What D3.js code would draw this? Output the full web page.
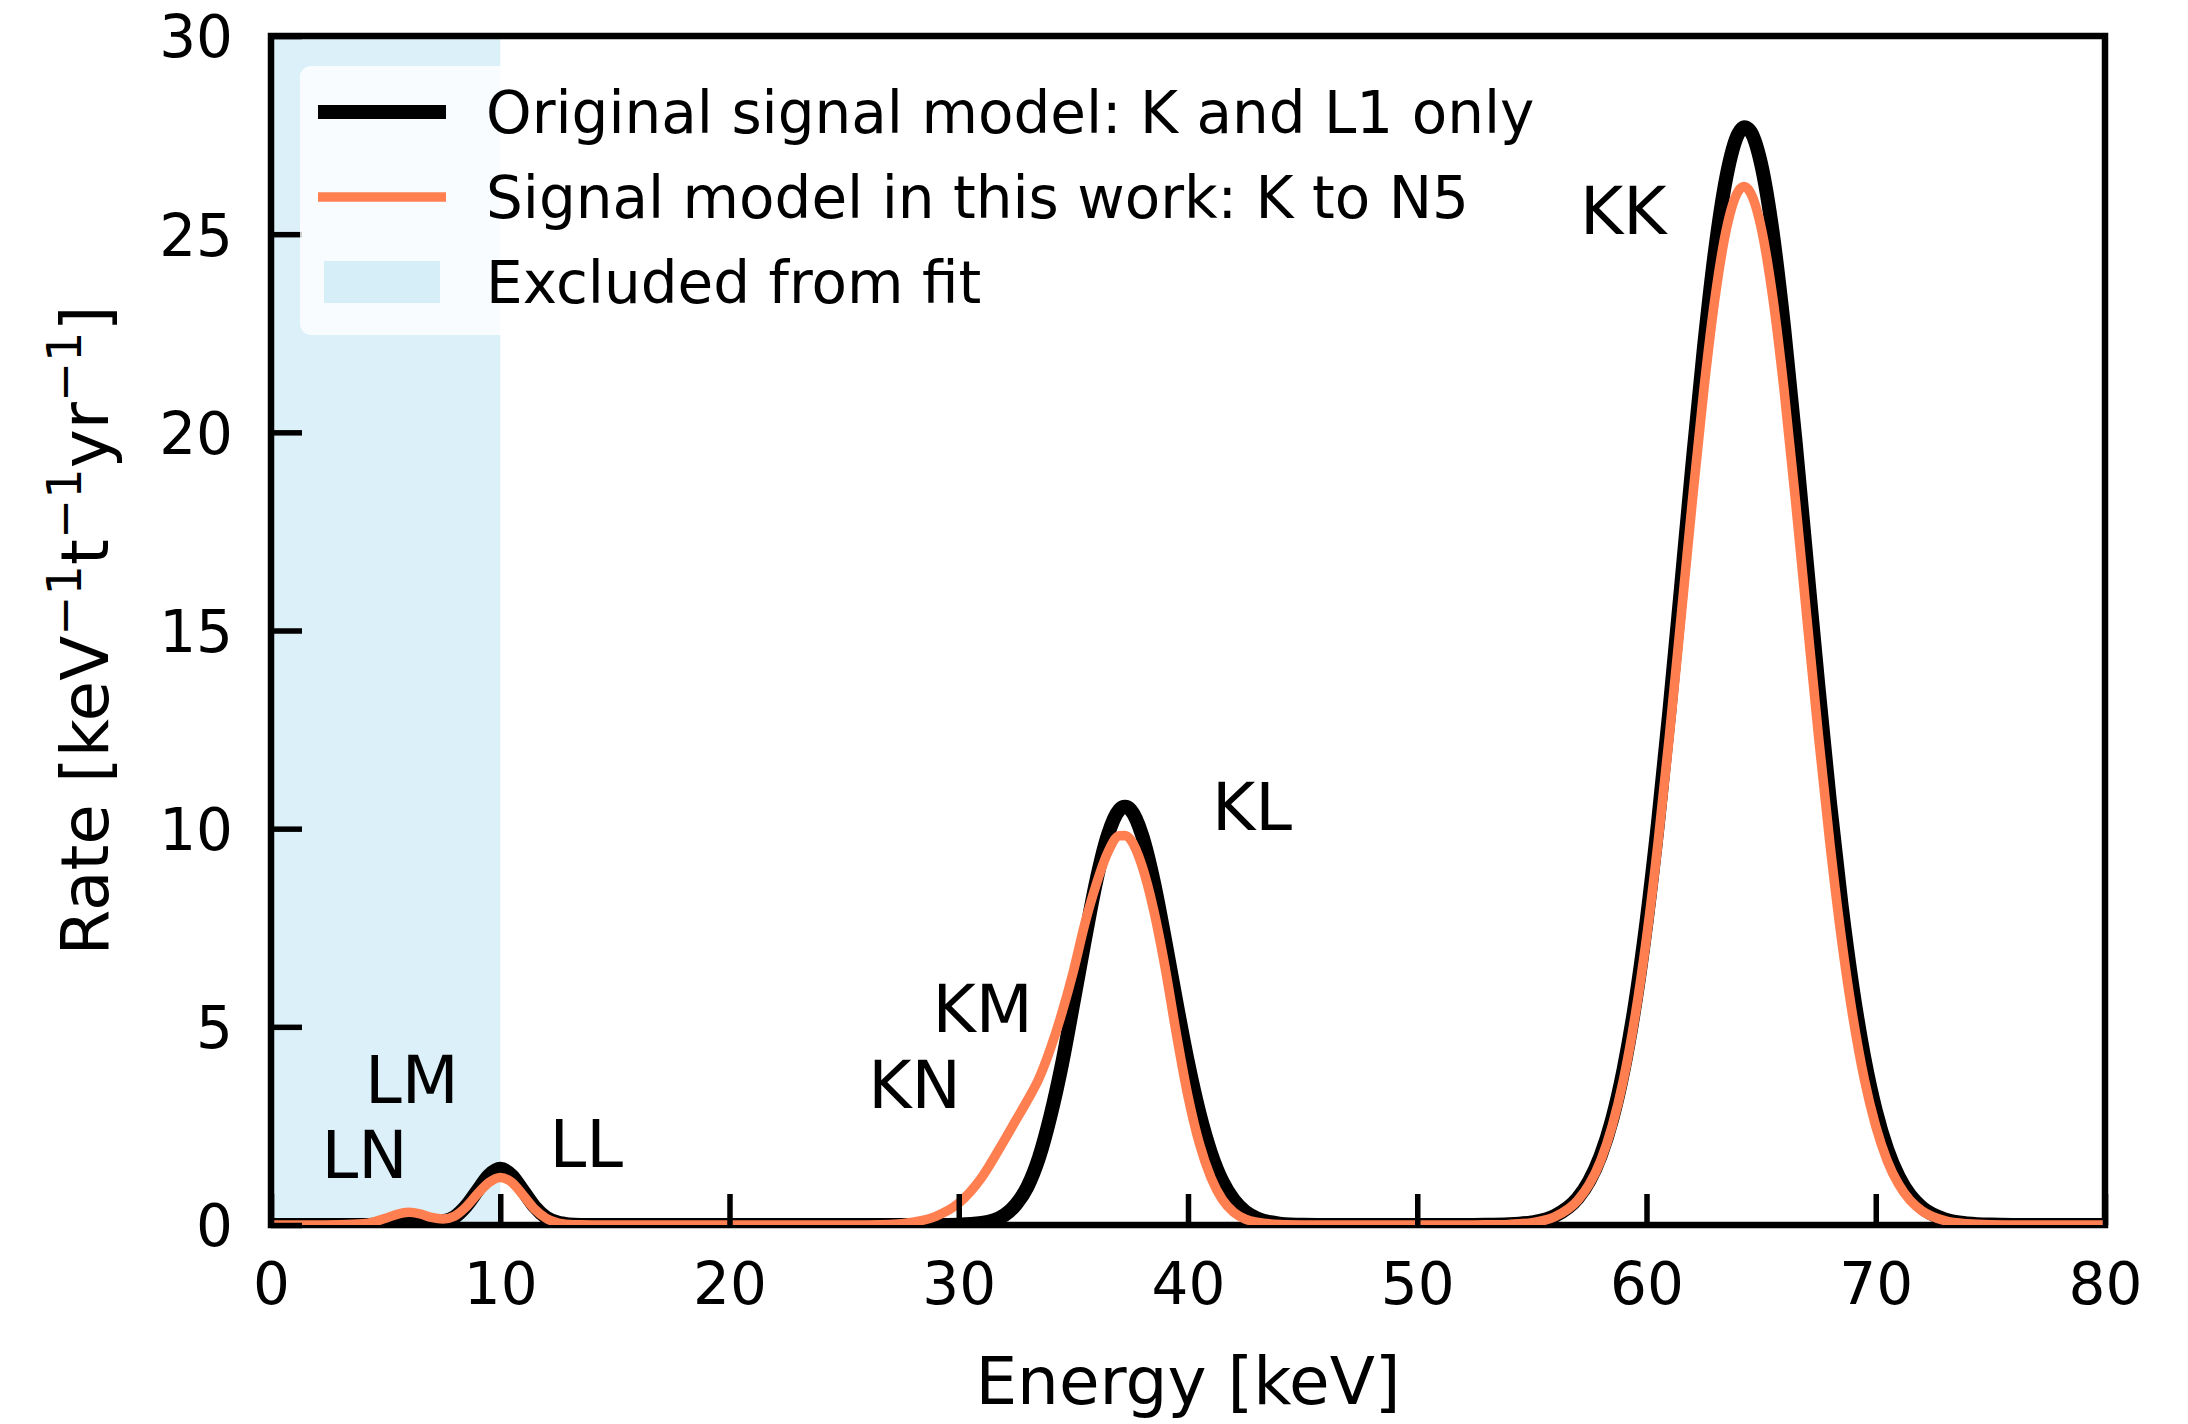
<!DOCTYPE html>
<html>
<head>
<meta charset="utf-8">
<script src="https://cdn.jsdelivr.net/npm/d3@7"></script>
<style>
  html, body { margin: 0; padding: 0; background: #fff; }
  svg { display: block; font-family: "DejaVu Sans", sans-serif; }
</style>
</head>
<body>
<div id="chart"></div>
<script>
  // energy grid [keV] shared by both models, rates
  const energyKeV = [
    0, 2, 3, 4, 4.5, 5, 5.5, 6, 6.5, 7, 7.5, 8, 8.5, 9, 9.5, 10, 10.5, 11, 11.5, 12, 12.5, 13, 13.5, 14,
    16, 20, 24, 26, 27, 28, 29, 30, 31, 32, 32.5, 33, 33.5, 34, 34.5, 35, 35.5, 36, 36.5, 37, 37.25,
    37.5, 38, 38.5, 39, 39.5, 40, 40.5, 41, 41.5, 42, 42.5, 43, 44, 45, 46, 48, 50,
    52, 53, 54, 55, 56, 57, 57.5, 58, 58.5, 59, 59.5, 60, 60.5, 61, 61.5, 62, 62.5, 63, 63.5, 64, 64.25,
    64.5, 65, 65.5, 66, 66.5, 67, 67.5, 68, 68.5, 69, 69.5, 70, 70.5, 71, 71.5, 72, 73, 74, 75, 76, 77, 80
  ];
  // original signal model: K and L1 only
  const rateOriginal = [
    0, 0, 0, 0, 0.005, 0.02, 0.04, 0.05, 0.05, 0.06, 0.09, 0.2, 0.47, 0.86, 1.25, 1.42, 1.25, 0.86, 0.46, 0.19, 0.062, 0.016, 0.003, 0,
    0, 0, 0, 0, 0, 0, 0.001, 0.008, 0.05, 0.25, 0.52, 0.97, 1.7, 2.75, 4.05, 5.6, 7.19, 8.68, 9.83, 10.47, 10.55,
    10.47, 9.83, 8.68, 7.19, 5.6, 4.1, 2.82, 1.82, 1.1, 0.63, 0.337, 0.17, 0.035, 0.006, 0.001, 0, 0,
    0.0007, 0.0038, 0.017, 0.067, 0.229, 0.678, 1.108, 1.748, 2.663, 3.92, 5.57, 7.65, 10.14, 12.98, 16.05, 19.17, 22.11, 24.63, 26.49, 27.53, 27.7,
    27.62, 26.77, 25.06, 22.65, 19.78, 16.67, 13.58, 10.68, 8.11, 5.95, 4.22, 2.89, 1.91, 1.22, 0.75, 0.447, 0.143, 0.04, 0.0096, 0.002, 0.0004, 0
  ];
  // signal model in this work: K to N5
  const rateThisWork = [
    0, 0, 0.005, 0.03, 0.08, 0.17, 0.27, 0.32, 0.28, 0.19, 0.15, 0.22, 0.45, 0.78, 1.07, 1.2, 1.08, 0.75, 0.4, 0.17, 0.055, 0.015, 0.004, 0.001,
    0, 0, 0, 0.003, 0.01, 0.07, 0.22, 0.55, 1.2, 2.15, 2.65, 3.15, 3.7, 4.45, 5.35, 6.4, 7.6, 8.6, 9.4, 9.82, 9.83,
    9.72, 9.05, 7.95, 6.5, 4.8, 3.25, 2.05, 1.2, 0.64, 0.32, 0.15, 0.07, 0.012, 0.002, 0, 0, 0,
    0.0006, 0.0032, 0.015, 0.059, 0.206, 0.621, 1.022, 1.624, 2.49, 3.68, 5.26, 7.24, 9.63, 12.35, 15.29, 18.27, 21.07, 23.44, 25.17, 26.08, 26.2,
    26.08, 25.17, 23.44, 21.07, 18.27, 15.29, 12.35, 9.63, 7.24, 5.26, 3.68, 2.49, 1.624, 1.022, 0.621, 0.364, 0.112, 0.03, 0.007, 0.0015, 0.0003, 0
  ];

  const excludedRange = [0, 10];
  const xTicks = [0, 10, 20, 30, 40, 50, 60, 70, 80];
  const yTicks = [0, 5, 10, 15, 20, 25, 30];

  const peakLabels = ['KK', 'KL', 'KM', 'KN', 'LL', 'LM', 'LN'];
  const peakLabelE = [57.1, 41.05, 28.85, 26.05, 12.15, 4.1, 2.2];
  const peakLabelR = [25.0, 9.97, 4.87, 2.95, 1.46, 3.08, 1.19];

  const legendLabels = [
    'Original signal model: K and L1 only',
    'Signal model in this work: K to N5',
    'Excluded from fit'
  ];

  const W = 2188, H = 1424;
  const plot = { left: 271, right: 2105, top: 36, bottom: 1225 };
  const BLUE = 'rgb(135,206,235)';
  const CORAL = '#ff7f50';

  const svg = d3.select('#chart').append('svg')
    .attr('width', W).attr('height', H)
    .attr('viewBox', '0 0 ' + W + ' ' + H);

  const x = d3.scaleLinear().domain([0, 80]).range([plot.left, plot.right]);
  const y = d3.scaleLinear().domain([0, 30]).range([plot.bottom, plot.top]);

  svg.append('defs').append('clipPath').attr('id', 'plot-clip')
    .append('rect')
    .attr('x', plot.left).attr('y', plot.top)
    .attr('width', plot.right - plot.left).attr('height', plot.bottom - plot.top);

  // excluded region
  svg.append('rect')
    .attr('x', x(excludedRange[0])).attr('y', plot.top)
    .attr('width', x(excludedRange[1]) - x(excludedRange[0]))
    .attr('height', plot.bottom - plot.top)
    .attr('fill', BLUE).attr('fill-opacity', 0.3);

  // frame
  svg.append('rect')
    .attr('x', plot.left).attr('y', plot.top)
    .attr('width', plot.right - plot.left).attr('height', plot.bottom - plot.top)
    .attr('fill', 'none').attr('stroke', '#000').attr('stroke-width', 6.5);

  const pts = function (rates) {
    return energyKeV.map(function (e, i) { return { e: e, r: rates[i] }; });
  };
  const line = d3.line()
    .x(function (d) { return x(d.e); })
    .y(function (d) { return y(d.r); })
    .curve(d3.curveMonotoneX);

  const curves = svg.append('g').attr('clip-path', 'url(#plot-clip)');
  curves.append('path')
    .attr('d', line(pts(rateOriginal)))
    .attr('fill', 'none').attr('stroke', '#000')
    .attr('stroke-width', 14).attr('stroke-linejoin', 'round');
  curves.append('path')
    .attr('d', line(pts(rateThisWork)))
    .attr('fill', 'none').attr('stroke', CORAL)
    .attr('stroke-width', 9.5).attr('stroke-linejoin', 'round');

  // axes with inward ticks
  const xAxis = svg.append('g')
    .attr('transform', 'translate(0,' + plot.bottom + ')')
    .call(d3.axisBottom(x).tickValues(xTicks).tickSizeInner(-31).tickSizeOuter(0).tickPadding(38));
  const yAxis = svg.append('g')
    .attr('transform', 'translate(' + plot.left + ',0)')
    .call(d3.axisLeft(y).tickValues(yTicks).tickSizeInner(-31).tickSizeOuter(0).tickPadding(38));

  [xAxis, yAxis].forEach(function (ax) {
    ax.select('.domain').remove();
    ax.selectAll('.tick line').attr('stroke', '#000').attr('stroke-width', 5.5);
    ax.selectAll('.tick text')
      .attr('fill', '#000')
      .attr('font-size', 58)
      .attr('font-family', '"DejaVu Sans", sans-serif');
  });
  yAxis.selectAll('.tick text').attr('dy', '0.36em');

  // peak annotations
  svg.append('g').selectAll('text')
    .data(peakLabels)
    .join('text')
    .attr('x', function (d, i) { return x(peakLabelE[i]); })
    .attr('y', function (d, i) { return y(peakLabelR[i]); })
    .attr('font-size', 66)
    .attr('fill', '#000')
    .text(function (d) { return d; });

  // axis labels
  svg.append('text')
    .attr('x', (plot.left + plot.right) / 2)
    .attr('y', 1404)
    .attr('text-anchor', 'middle')
    .attr('font-size', 66)
    .text('Energy [keV]');

  const yLabel = svg.append('text')
    .attr('transform', 'translate(108,' + ((plot.top + plot.bottom) / 2) + ') rotate(-90)')
    .attr('text-anchor', 'middle')
    .attr('font-size', 66);
  const parts = [['Rate [keV', false], ['\u22121', true], ['t', false], ['\u22121', true], ['yr', false], ['\u22121', true], [']', false]];
  parts.forEach(function (p, i) {
    const prevSup = i > 0 && parts[i - 1][1];
    const ts = yLabel.append('tspan').text(p[0]);
    if (p[1]) ts.attr('font-size', 48).attr('dy', -27);
    else if (prevSup) ts.attr('dy', 27);
  });

  // legend
  const legend = svg.append('g');
  legend.append('rect')
    .attr('x', 300).attr('y', 66).attr('width', 1256).attr('height', 269)
    .attr('rx', 11)
    .attr('fill', '#fff').attr('fill-opacity', 0.8);
  const rowY = [112, 197, 282];
  legend.append('line')
    .attr('x1', 318).attr('x2', 446).attr('y1', rowY[0]).attr('y2', rowY[0])
    .attr('stroke', '#000').attr('stroke-width', 14);
  legend.append('line')
    .attr('x1', 318).attr('x2', 446).attr('y1', rowY[1]).attr('y2', rowY[1])
    .attr('stroke', CORAL).attr('stroke-width', 9.5);
  legend.append('rect')
    .attr('x', 324).attr('y', rowY[2] - 21).attr('width', 116).attr('height', 42)
    .attr('fill', BLUE).attr('fill-opacity', 0.3);
  legend.selectAll('text.lab')
    .data(legendLabels)
    .join('text')
    .attr('class', 'lab')
    .attr('x', 486)
    .attr('y', function (d, i) { return rowY[i] + 21; })
    .attr('font-size', 58)
    .text(function (d) { return d; });
</script>
</body>
</html>
